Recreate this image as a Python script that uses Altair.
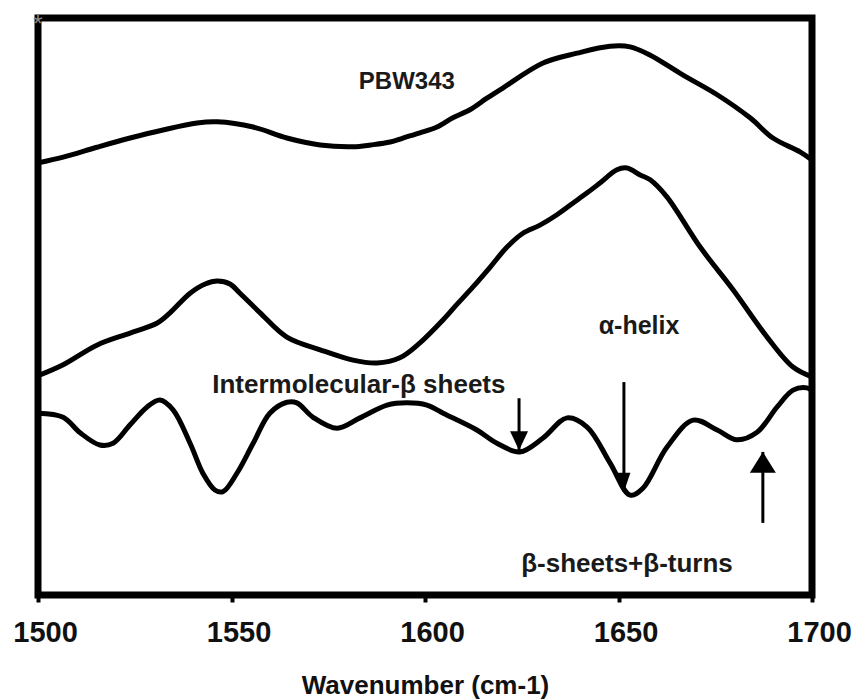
import altair as alt
import pandas as pd

# ---- spectra (wavenumber, arbitrary intensity units) ----
top_wn = [1500, 1506.5, 1515.2, 1523.8, 1532.3, 1541.1, 1546.3, 1555.6, 1564.3, 1572.9,
          1581.4, 1586.0, 1591.0, 1594.3, 1598.7, 1603.1, 1607.2, 1611.6, 1616.0, 1620.2,
          1630.5, 1639.3, 1647.8, 1653.0, 1658.1, 1666.7, 1675.5, 1684.0, 1689.9, 1696.9,
          1700]
top_au = [74.9, 75.9, 77.6, 79.2, 80.6, 81.8, 82.0, 81.1, 79.2, 78.0,
          77.7, 78.0, 78.5, 79.2, 80.1, 81.1, 82.7, 84.1, 86.1, 87.9,
          92.2, 93.9, 95.1, 95.0, 93.6, 90.1, 86.7, 82.7, 79.2, 76.8,
          75.4]

mid_wn = [1500, 1506.5, 1515.2, 1523.8, 1530.7, 1534.1, 1539.3, 1543.2, 1546.3, 1549.6,
          1552.2, 1557.4, 1564.3, 1572.9, 1581.4, 1587.6, 1593.5, 1598.7, 1604.7, 1608.3,
          1612.4, 1616.8, 1621.2, 1625.3, 1629.7, 1634.1, 1638.2, 1641.9, 1645.2, 1649.6,
          1652.2, 1655.6, 1658.1, 1662.5, 1671.1, 1679.6, 1688.4, 1695.1, 1700]
mid_au = [38.0, 39.9, 43.3, 45.4, 47.1, 48.9, 52.3, 53.9, 54.4, 53.9,
          52.3, 48.9, 44.7, 42.5, 40.7, 40.2, 41.1, 43.7, 47.7, 50.4,
          53.4, 56.8, 60.3, 62.7, 64.1, 65.9, 67.9, 69.7, 71.4, 73.7,
          74.0, 72.8, 72.0, 69.0, 60.3, 52.9, 44.7, 39.5, 37.8]

bot_wn = [1500, 1506.5, 1510.9, 1516.0, 1519.4, 1523.8, 1528.2, 1531.5, 1534.9, 1539.3,
          1542.6, 1545.7, 1547.8, 1551.4, 1555.6, 1559.9, 1564.3, 1566.9, 1571.1, 1577.3,
          1583.2, 1590.2, 1595.3, 1600.5, 1604.7, 1613.4, 1618.6, 1624.5, 1630.5, 1636.7,
          1641.9, 1647.8, 1653.0, 1656.3, 1662.5, 1669.3, 1675.5, 1680.6, 1685.8, 1691.0,
          1695.1, 1698.7, 1700]
bot_au = [31.5, 30.8, 28.1, 26.0, 26.3, 29.5, 32.6, 33.8, 32.1, 26.3,
          21.1, 18.2, 17.9, 21.1, 26.3, 31.5, 33.4, 33.3, 30.8, 28.9,
          30.7, 32.9, 33.3, 32.9, 31.5, 28.6, 26.3, 24.8, 27.2, 30.7,
          29.1, 22.9, 17.3, 18.5, 25.6, 30.3, 28.6, 26.9, 28.2, 32.6,
          35.5, 35.9, 35.4]

# ---- annotation arrows (wavenumber, from, to/tip) ----
arrow_wn = [1624.3, 1651.4, 1687.3]
arrow_from = [34.1, 36.9, 12.5]
arrow_tip = [25.1, 17.9, 24.8]

# ---- annotation labels ----
label_text = ["PBW343", "α-helix", "Intermolecular-β sheets", "β-sheets+β-turns"]
label_wn = [1595.3, 1655.3, 1582.9, 1652.2]
label_au = [88.9, 46.6, 36.4, 5.4]

tick_values = [1500, 1550, 1600, 1650, 1700]

FONT = "Liberation Sans"

curves = pd.concat([
    pd.DataFrame({"wn": top_wn, "au": top_au, "series": "top"}),
    pd.DataFrame({"wn": mid_wn, "au": mid_au, "series": "middle"}),
    pd.DataFrame({"wn": bot_wn, "au": bot_au, "series": "bottom"}),
])
arrows = pd.DataFrame({"wn": arrow_wn, "y1": arrow_from, "y2": arrow_tip})
labels = pd.DataFrame({"text": label_text, "wn": label_wn, "au": label_au})

xscale = alt.Scale(domain=[1500, 1700], nice=False, zero=False)
yscale = alt.Scale(domain=[0, 100], nice=False, zero=False)

xaxis = alt.Axis(
    values=tick_values, format="d", title="Wavenumber (cm-1)",
    domain=False, grid=False, tickSize=7, tickWidth=4, tickColor="black",
    labelFont=FONT, labelFontSize=29, labelFontWeight="bold", labelColor="#111111",
    labelPadding=16, labelOffset=7, labelFlush=False, labelOverlap=False,
    titleFont=FONT, titleFontSize=26, titleFontWeight="bold", titleColor="#111111",
    titleBaseline="alphabetic", titleY=98,
)

lines = alt.Chart(curves).mark_line(
    color="black", strokeWidth=5, interpolate="catmull-rom"
).encode(
    x=alt.X("wn:Q", scale=xscale, axis=xaxis),
    y=alt.Y("au:Q", scale=yscale, axis=None),
    detail="series:N",
)

rules = alt.Chart(arrows).mark_rule(color="black", strokeWidth=3).encode(
    x="wn:Q", y="y1:Q", y2="y2:Q"
)

def head(i, path, size):
    d = pd.DataFrame({"wn": [arrow_wn[i]], "au": [arrow_tip[i]]})
    return alt.Chart(d).mark_point(
        shape=path, size=size, filled=True, color="black", opacity=1, strokeWidth=0
    ).encode(x="wn:Q", y="au:Q")

heads = [
    head(0, "M0,0L-1,-2.1L1,-2.1Z", 324),
    head(1, "M0,0L-1,-2.9L1,-2.9Z", 169),
    head(2, "M0,0L-1,1.6L1,1.6Z", 676),
]

def label(i, size):
    d = labels.iloc[[i]]
    return alt.Chart(d).mark_text(
        font=FONT, fontSize=size, fontWeight="bold", color="#1a1a1a",
        align="center", baseline="middle"
    ).encode(x="wn:Q", y="au:Q", text="text:N")

texts = [label(0, 24), label(1, 25), label(2, 26), label(3, 26)]

corner = alt.Chart(pd.DataFrame({"wn": [1500], "au": [100], "t": ["*"]})).mark_text(
    font=FONT, fontSize=24, color="#888888", align="center", baseline="middle", dy=7
).encode(x="wn:Q", y="au:Q", text="t:N")

chart = alt.layer(lines, rules, *heads, *texts, corner).properties(
    width=774, height=577,
    autosize="none",
    padding={"left": 38, "top": 18, "right": 45, "bottom": 104},
    background="white",
).configure_view(stroke="black", strokeWidth=7)

chart.save("out.html", embed_options={"renderer": "svg", "actions": False})
